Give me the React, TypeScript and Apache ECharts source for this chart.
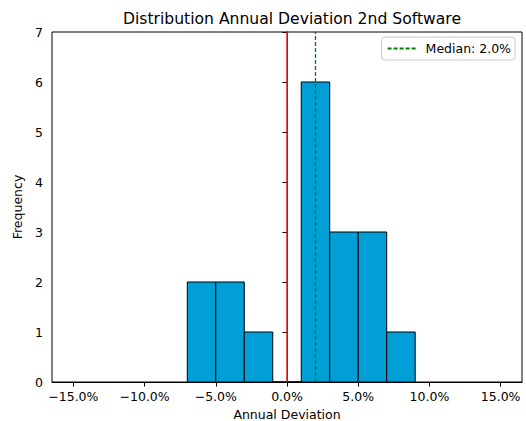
import React, { useEffect, useRef } from 'react';
import * as echarts from 'echarts';

const binEdges = [-7, -5, -3, -1, 1, 3, 5, 7, 9];
const counts = [2, 2, 1, 0, 6, 3, 3, 1];
const xTicks = [-15, -10, -5, 0, 5, 10, 15];
const medianValue = 2.0;
const zeroValue = 0;
const yMax = 7;

const FONT = 'DejaVu Sans';

export default function App() {
  const ref = useRef<HTMLDivElement>(null);
  useEffect(() => {
    if (!ref.current) return;
    const chart = echarts.init(ref.current, null, { renderer: 'svg' });
    const barData = counts.map((c, i) => [binEdges[i], binEdges[i + 1], c]);
    const fmt = (v: number) => (v < 0 ? '\u2212' : '') + Math.abs(v).toFixed(1) + '%';
    const medianName = 'Median: ' + medianValue.toFixed(1) + '%';
    chart.setOption({
      animation: false,
      backgroundColor: '#fff',
      title: {
        text: 'Distribution Annual Deviation 2nd Software',
        left: 287,
        textAlign: 'center',
        top: 6,
        textStyle: { fontFamily: FONT, fontSize: 15.6, fontWeight: 'normal', color: '#000' },
      },
      legend: {
        data: [medianName],
        right: 11,
        top: 37,
        padding: [5, 4, 5, 5],
        itemWidth: 28,
        itemHeight: 10,
        borderColor: '#cccccc',
        borderWidth: 1,
        borderRadius: 3,
        backgroundColor: '#fff',
        itemStyle: { color: 'transparent', borderColor: 'transparent', borderWidth: 0, opacity: 0 },
        textStyle: { fontFamily: FONT, fontSize: 12.5, color: '#000', padding: [0, 0, 0, 5] },
      },
      grid: {
        left: 52,
        right: 4,
        top: 32,
        bottom: 39,
        containLabel: false,
        outerBoundsMode: 'none',
        show: true,
        borderColor: '#000',
        borderWidth: 1,
      },
      xAxis: {
        type: 'value',
        min: -16.5,
        max: 16.5,
        name: 'Annual Deviation',
        nameLocation: 'middle',
        nameGap: 24,
        nameTextStyle: { fontFamily: FONT, fontSize: 12.5, color: '#000' },
        axisLine: { show: true, lineStyle: { color: '#000', width: 1 } },
        axisTick: { show: true, customValues: xTicks, length: 4.5, lineStyle: { color: '#000' } },
        axisLabel: {
          customValues: xTicks,
          formatter: (v: number) => fmt(v),
          fontFamily: FONT,
          fontSize: 12.5,
          color: '#000',
          margin: 8,
        },
        splitLine: { show: false },
      },
      yAxis: {
        type: 'value',
        min: 0,
        max: yMax,
        interval: 1,
        name: 'Frequency',
        nameLocation: 'middle',
        nameGap: 23,
        nameRotate: 90,
        nameTextStyle: { fontFamily: FONT, fontSize: 12.5, color: '#000' },
        axisLine: { show: true, lineStyle: { color: '#000', width: 1 } },
        axisTick: { show: true, length: 4.5, lineStyle: { color: '#000' } },
        axisLabel: { fontFamily: FONT, fontSize: 12.5, color: '#000', margin: 9 },
        splitLine: { show: false },
      },
      series: [
        {
          type: 'custom',
          name: 'hist',
          z: 2,
          encode: { x: [0, 1], y: 2 },
          data: barData,
          renderItem: (params: any, api: any) => {
            const x0 = api.value(0);
            const x1 = api.value(1);
            const c = api.value(2);
            const p0 = api.coord([x0, 0]);
            const p1 = api.coord([x1, c]);
            return {
              type: 'rect',
              shape: { x: p0[0], y: p1[1], width: p1[0] - p0[0], height: p0[1] - p1[1] },
              style: { fill: '#019fd7', stroke: '#000', lineWidth: 1 },
            };
          },
          markLine: {
            silent: true,
            symbol: 'none',
            label: { show: false },
            lineStyle: { color: '#e8221f', width: 1.5, type: 'solid' },
            data: [{ xAxis: zeroValue }],
          },
        },
        {
          type: 'line',
          name: medianName,
          z: 4,
          symbol: 'none',
          silent: true,
          color: '#008000',
          data: [[medianValue, 0], [medianValue, yMax]],
          lineStyle: { color: '#008000', width: 1.3, type: [4, 2] },
        },
      ],
    });
    return () => chart.dispose();
  }, []);
  return (
    <div
      ref={ref}
      style={{ position: 'fixed', left: 0, top: 0, width: 526, height: 421 }}
    />
  );
}
